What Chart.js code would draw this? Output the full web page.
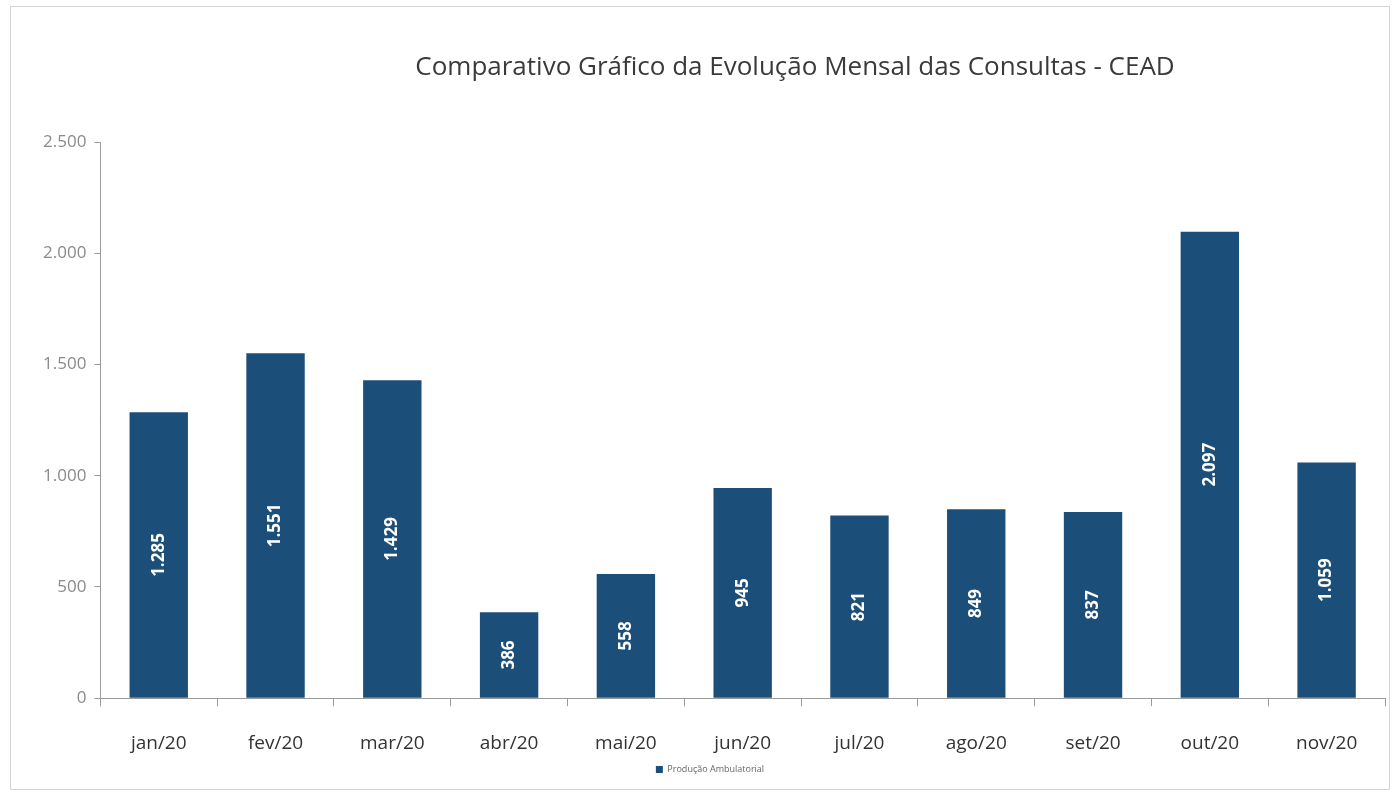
<!DOCTYPE html>
<html>
<head>
<meta charset="utf-8">
<script src="https://cdn.jsdelivr.net/npm/chart.js@4.4.1/dist/chart.umd.min.js"></script>
<style>
  body { margin: 0; background: #fff; }
  #wrap { position: relative; width: 1399px; height: 793px; }
  #frame { position: absolute; left: 10px; top: 6px; width: 1378px; height: 782px; border: 1px solid #d4d4d4; pointer-events: none; }
</style>
</head>
<body>
<div id="wrap">
  <canvas id="myChart" width="1399" height="793"></canvas>
  <div id="frame"></div>
</div>
<script>
// dados do gráfico
const meses = ['jan/20', 'fev/20', 'mar/20', 'abr/20', 'mai/20', 'jun/20', 'jul/20', 'ago/20', 'set/20', 'out/20', 'nov/20'];
const consultas = [1285, 1551, 1429, 386, 558, 945, 821, 849, 837, 2097, 1059];
const yTicks = [0, 500, 1000, 1500, 2000, 2500];
const titulo = 'Comparativo Gráfico da Evolução Mensal das Consultas - CEAD';
const serie = 'Produção Ambulatorial';

function formatar(v) {
    return String(v).replace(/\B(?=(\d{3})+(?!\d))/g, '.');
}

// rótulos brancos girados dentro das barras
const rotulosBarras = {
    id: 'rotulosBarras',
    afterDatasetsDraw(chart) {
        const ctx = chart.ctx;
        const meta = chart.getDatasetMeta(0);
        ctx.save();
        ctx.fillStyle = '#ffffff';
        ctx.font = 'bold 17px "Open Sans", sans-serif';
        ctx.textAlign = 'center';
        ctx.textBaseline = 'middle';
        meta.data.forEach((bar, i) => {
            const meio = (bar.y + bar.base) / 2;
            ctx.save();
            ctx.translate(bar.x, meio);
            ctx.rotate(-Math.PI / 2);
            ctx.fillText(formatar(consultas[i]), 0, 0);
            ctx.restore();
        });
        ctx.restore();
    }
};

// título desenhado à parte (deslocado como no original)
const tituloPlugin = {
    id: 'tituloPlugin',
    afterDraw(chart) {
        const ctx = chart.ctx;
        ctx.save();
        ctx.fillStyle = '#3a3a3a';
        ctx.font = '26px "Open Sans", sans-serif';
        ctx.textAlign = 'center';
        ctx.textBaseline = 'middle';
        ctx.fillText(titulo, 795, 68);
        ctx.restore();
    }
};

let ctx = document.getElementById('myChart').getContext('2d');

const myChart = new Chart(ctx, {
    type: 'bar',
    data: {
        labels: meses,
        datasets: [{
            label: serie,
            data: consultas,
            backgroundColor: '#1c4e7a',
            barPercentage: 0.5,
            categoryPercentage: 1.0
        }]
    },
    options: {
        responsive: false,
        animation: false,
        layout: { padding: { top: 142, right: 14, left: 35, bottom: 9 } },
        plugins: {
            legend: {
                position: 'bottom',
                labels: {
                    boxWidth: 7,
                    boxHeight: 7,
                    color: '#666',
                    font: { size: 9, family: '"Open Sans", sans-serif' },
                    padding: 4
                }
            },
            tooltip: { enabled: false }
        },
        scales: {
            x: {
                afterFit(scale) { scale.height -= 20; },
                grid: { display: true, drawOnChartArea: false, drawTicks: true, tickLength: 8, color: '#9a9a9a', offset: true },
                border: { display: true, color: '#9a9a9a' },
                ticks: { color: '#333', font: { size: 19, family: '"Open Sans", sans-serif' }, padding: 26 }
            },
            y: {
                min: 0,
                max: 2500,
                afterBuildTicks(axis) { axis.ticks = yTicks.map(v => ({ value: v })); },
                grid: { display: true, drawOnChartArea: false, drawTicks: true, tickLength: 6, color: '#9a9a9a' },
                border: { display: true, color: '#9a9a9a' },
                ticks: {
                    color: '#8a8a8a',
                    font: { size: 17, family: '"Open Sans", sans-serif' },
                    padding: 8,
                    callback: v => formatar(v)
                }
            }
        }
    },
    plugins: [rotulosBarras, tituloPlugin]
});
</script>
</body>
</html>
